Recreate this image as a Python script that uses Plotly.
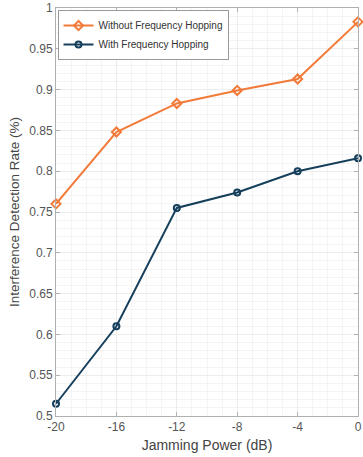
import plotly.graph_objects as go

x_vals = [-20, -16, -12, -8, -4, 0]
without_fh = [0.760, 0.848, 0.883, 0.899, 0.913, 0.983]
with_fh = [0.515, 0.610, 0.755, 0.774, 0.800, 0.816]
x_ticks = [-20, -16, -12, -8, -4, 0]
y_ticks = [0.5, 0.55, 0.6, 0.65, 0.7, 0.75, 0.8, 0.85, 0.9, 0.95, 1]
y_labels = ["0.5", "0.55", "0.6", "0.65", "0.7", "0.75", "0.8", "0.85", "0.9", "0.95", "1"]

orange = "#F27B3A"
navy = "#163F5C"
font_family = "Liberation Sans, Arial, sans-serif"

fig = go.Figure()
fig.add_trace(go.Scatter(
    x=x_vals, y=without_fh, mode="lines+markers", name="Without Frequency Hopping",
    line=dict(color=orange, width=2),
    marker=dict(symbol="diamond-open", size=7, color=orange, line=dict(width=2)),
    cliponaxis=False))
fig.add_trace(go.Scatter(
    x=x_vals, y=with_fh, mode="lines+markers", name="With Frequency Hopping",
    line=dict(color=navy, width=2),
    marker=dict(symbol="circle-open", size=6, color=navy, line=dict(width=2)),
    cliponaxis=False))

axis_common = dict(
    showline=True, linecolor="#b0b0b0", linewidth=1, mirror="ticks",
    ticks="inside", ticklen=4, tickcolor="#b0b0b0",
    showgrid=True, gridcolor="#ececec", gridwidth=1,
    zeroline=False, ticklabeloverflow="allow",
    tickfont=dict(family=font_family, size=12, color="#555555"),
)

fig.update_layout(
    width=363, height=457,
    margin=dict(l=56, r=1, t=8, b=41),
    paper_bgcolor="white", plot_bgcolor="white",
    showlegend=True,
    legend=dict(x=0.005, y=0.995, xanchor="left", yanchor="top",
                bgcolor="white", bordercolor="#999999", borderwidth=1,
                font=dict(family=font_family, size=10, color="#333333"),
                tracegroupgap=0, itemwidth=30),
    xaxis=dict(range=[-20, 0], tickvals=x_ticks, ticktext=[str(v) for v in x_ticks],
               minor=dict(dtick=1, showgrid=True, gridcolor="#f4f4f4", ticks=""),
               title=dict(text="Jamming Power (dB)", standoff=6,
                          font=dict(family=font_family, size=14, color="#444444")),
               **axis_common),
    yaxis=dict(range=[0.5, 1], tickvals=y_ticks, ticktext=y_labels,
               minor=dict(dtick=0.01, showgrid=True, gridcolor="#f4f4f4", ticks=""),
               title=dict(text="Interference Detection Rate (%)", standoff=6,
                          font=dict(family=font_family, size=13.5, color="#444444")),
               **axis_common),
)

fig.write_html("out.html", config={"displayModeBar": False},
               post_script="document.body.style.margin='0';document.body.style.overflow='hidden';")
